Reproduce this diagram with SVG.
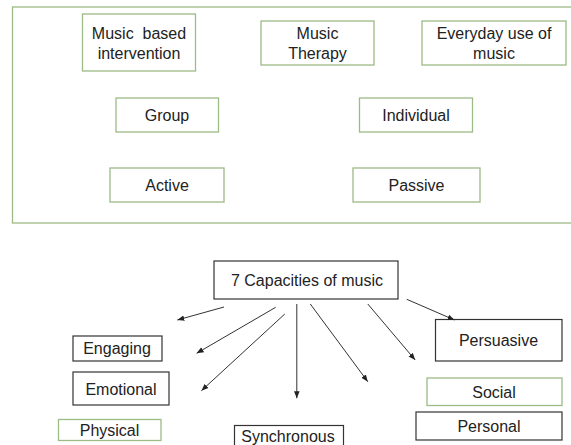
<svg xmlns="http://www.w3.org/2000/svg" width="571" height="445" viewBox="0 0 571 445">
<defs>
<style>
.g{fill:#fff;stroke:#9cbb86;stroke-width:1.3}
.k{fill:#fff;stroke:#333;stroke-width:1.2}
text{font-family:"Liberation Sans",Arial,sans-serif;font-size:16px;fill:#222;text-anchor:middle}
.c{stroke:#333;stroke-width:1;fill:none;marker-end:url(#ah)}
</style>
<marker id="ah" viewBox="0 0 10 10" refX="10" refY="5" markerWidth="7" markerHeight="7" markerUnits="userSpaceOnUse" orient="auto">
<path d="M0,1 L10,5 L0,9 z" fill="#222"/>
</marker>
</defs>
<rect width="571" height="445" fill="#fff"/>
<g id="frame"><rect class="g" x="12.5" y="7" width="570" height="216" fill="none"/></g>
<g id="n-mbi"><rect class="g" x="82.5" y="14" width="113" height="57"/><text x="139" y="39" xml:space="preserve">Music  based</text><text x="139" y="59">intervention</text></g>
<g id="n-mt"><rect class="g" x="261" y="21" width="113" height="44"/><text x="317.5" y="39">Music</text><text x="317.5" y="59">Therapy</text></g>
<g id="n-eum"><rect class="g" x="422" y="21" width="144" height="44"/><text x="494" y="39">Everyday use of</text><text x="494" y="59">music</text></g>
<g id="n-group"><rect class="g" x="116" y="98" width="102.5" height="34"/><text x="167" y="121">Group</text></g>
<g id="n-ind"><rect class="g" x="359.5" y="98" width="113" height="34"/><text x="416" y="121">Individual</text></g>
<g id="n-active"><rect class="g" x="110" y="168" width="114" height="34"/><text x="167" y="190.5">Active</text></g>
<g id="n-passive"><rect class="g" x="353" y="168" width="127" height="34"/><text x="416.5" y="190.5">Passive</text></g>

<g id="n-cap"><rect class="k" x="214" y="261" width="184" height="38"/><text x="307" y="285.5">7 Capacities of music</text></g>
<g id="n-engaging"><rect class="k" x="73" y="336" width="89" height="25"/><text x="117" y="354">Engaging</text></g>
<g id="n-emotional"><rect class="k" x="73" y="372" width="96" height="33"/><text x="121" y="394.5">Emotional</text></g>
<g id="n-physical"><rect class="g" x="58.5" y="419.5" width="102.5" height="21"/><text x="109.5" y="435.5">Physical</text></g>
<g id="n-sync"><rect class="k" x="234.5" y="425.5" width="109" height="30"/><text x="288" y="442">Synchronous</text></g>
<g id="n-persuasive"><rect class="k" x="435.5" y="319.5" width="126.5" height="41.5"/><text x="498.5" y="345.5">Persuasive</text></g>
<g id="n-social"><rect class="g" x="427" y="378" width="135" height="27.5"/><text x="494" y="397.5">Social</text></g>
<g id="n-personal"><rect class="k" x="416" y="412" width="146" height="28"/><text x="489" y="432">Personal</text></g>

<g id="connectors">
<line class="c" x1="224" y1="307" x2="177.3" y2="320"/>
<line class="c" x1="275.7" y1="307.3" x2="196.6" y2="353.3"/>
<line class="c" x1="284.8" y1="314" x2="201.4" y2="390.7"/>
<line class="c" x1="296.8" y1="304" x2="296.8" y2="398.3"/>
<line class="c" x1="310.3" y1="304" x2="367.8" y2="381.7"/>
<line class="c" x1="367.8" y1="304" x2="415.2" y2="360"/>
<line class="c" x1="406.8" y1="299.3" x2="454.5" y2="320"/>
</g>
</svg>
